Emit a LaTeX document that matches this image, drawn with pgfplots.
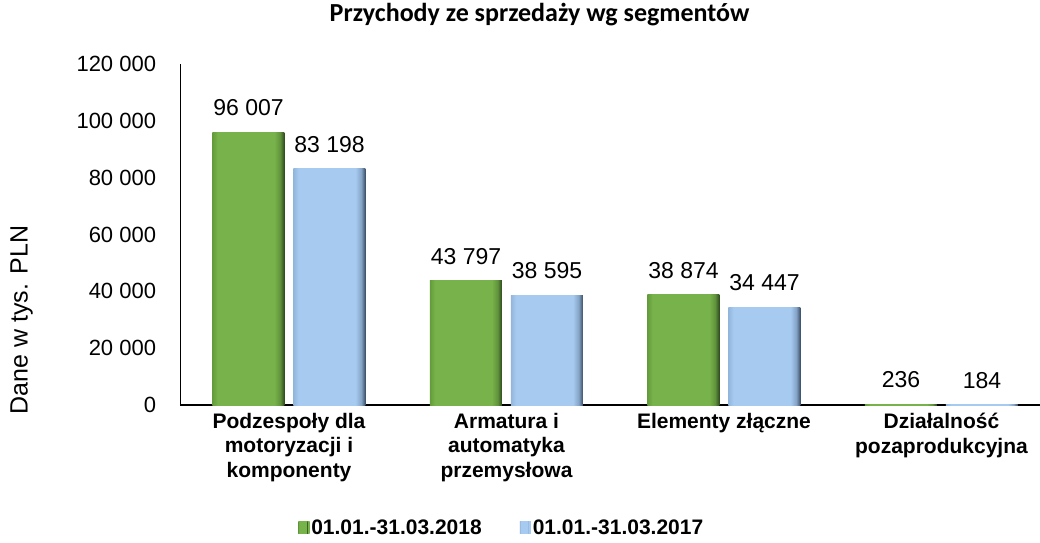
\documentclass[border=0pt]{standalone}
\usepackage{pgfplots}
\pgfplotsset{compat=1.18}
\usepackage{fontspec}
\setmainfont{Liberation Sans}
\newfontfamily\titlefont{Carlito}
\definecolor{gL}{RGB}{100,156,60}
\definecolor{gM}{RGB}{119,178,74}
\definecolor{gD}{RGB}{44,72,28}
\definecolor{bL}{RGB}{146,182,220}
\definecolor{bM}{RGB}{166,202,240}
\definecolor{bD}{RGB}{56,76,100}
\pgfdeclarehorizontalshading{greenbar}{100bp}{color(0bp)=(gL); color(25bp)=(gL); color(28.5bp)=(gM); color(68bp)=(gM); color(72bp)=(gM!70!gD); color(75bp)=(gD); color(100bp)=(gD)}
\pgfdeclarehorizontalshading{bluebar}{100bp}{color(0bp)=(bL); color(25bp)=(bL); color(28.5bp)=(bM); color(68bp)=(bM); color(72bp)=(bM!70!bD); color(75bp)=(bD); color(100bp)=(bD)}
\pgfplotsset{
  gbar/.style={draw=none, shading=greenbar, bar shift=-40.5bp,
    legend image code/.code={\fill[gM] (0bp,-6bp) rectangle (11bp,6bp); \fill[gD] (9bp,-6bp) rectangle (11bp,6bp);}},
  bbar/.style={draw=none, shading=bluebar, bar shift=40.5bp,
    legend image code/.code={\fill[bM] (0bp,-6bp) rectangle (11bp,6bp); \fill[bD] (9bp,-6bp) rectangle (11bp,6bp);}},
}
\begin{document}
\begin{tikzpicture}
\useasboundingbox (0,0) rectangle (1040bp,543bp);
\begin{axis}[
  at={(180.25bp,138bp)}, anchor=south west,
  scale only axis, width=859.75bp, height=341bp,
  xmin=-0.5, xmax=3.453, ymin=0, ymax=120000,
  axis x line*=bottom, axis y line*=left,
  axis line style={line width=1.5bp, black, -},
  major tick length=0pt,
  ybar, bar width=72bp,
  xtick={0,1,2,3},
  xticklabels={{Podzespoły dla\\motoryzacji i\\komponenty},{Armatura i\\automatyka\\przemysłowa},{Elementy złączne},{Działalność\\pozaprodukcyjna}},
  xticklabel style={align=center, anchor=north, inner sep=0pt, yshift=-8bp, font=\fontsize{21bp}{24.5bp}\selectfont\bfseries},
  ytick={0,20000,...,120000},
  scaled y ticks=false,
  yticklabel style={anchor=east, inner sep=0pt, xshift=-24bp, font=\fontsize{22bp}{26bp}\selectfont,
    /pgf/number format/.cd, fixed, precision=0, 1000 sep={\ }, assume math mode=true},
  ylabel={Dane w tys. PLN},
  every axis y label/.style={at={(axis description cs:-0.1844,0.249)}, rotate=90, anchor=center, font=\fontsize{25bp}{30bp}\selectfont},
  title={Przychody ze sprzedaży wg segmentów},
  title style={at={(axis description cs:0.418,1.126)}, anchor=center, font=\fontsize{26bp}{30bp}\titlefont\bfseries},
  nodes near coords={\pgfmathprintnumber[fixed, precision=0, 1000 sep={\ }, assume math mode=true]{\pgfplotspointmeta}},
  nodes near coords style={anchor=south, inner sep=0pt, yshift=16bp, font=\fontsize{23bp}{27bp}\selectfont, black},
  legend columns=2,
  legend style={draw=none, fill=none, at={(axis description cs:0.374,-0.36)}, anchor=center,
    font=\fontsize{21bp}{25bp}\selectfont\bfseries,
    /tikz/every even column/.append style={column sep=36bp},
    nodes={inner sep=2bp}},
  clip=false,
]
% 01.01.-31.03.2018
\addplot[gbar] coordinates {(0,96007)};
\addlegendentry{01.01.-31.03.2018}
% 01.01.-31.03.2017
\addplot[bbar] coordinates {(0,83198)};
\addlegendentry{01.01.-31.03.2017}
\addplot[gbar, forget plot] coordinates {(1,43797)};
\addplot[gbar, forget plot] coordinates {(2,38874)};
\addplot[gbar, forget plot] coordinates {(3,236)};
\addplot[bbar, forget plot] coordinates {(1,38595)};
\addplot[bbar, forget plot] coordinates {(2,34447)};
\addplot[bbar, forget plot] coordinates {(3,184)};
\end{axis}
\end{tikzpicture}
\end{document}
